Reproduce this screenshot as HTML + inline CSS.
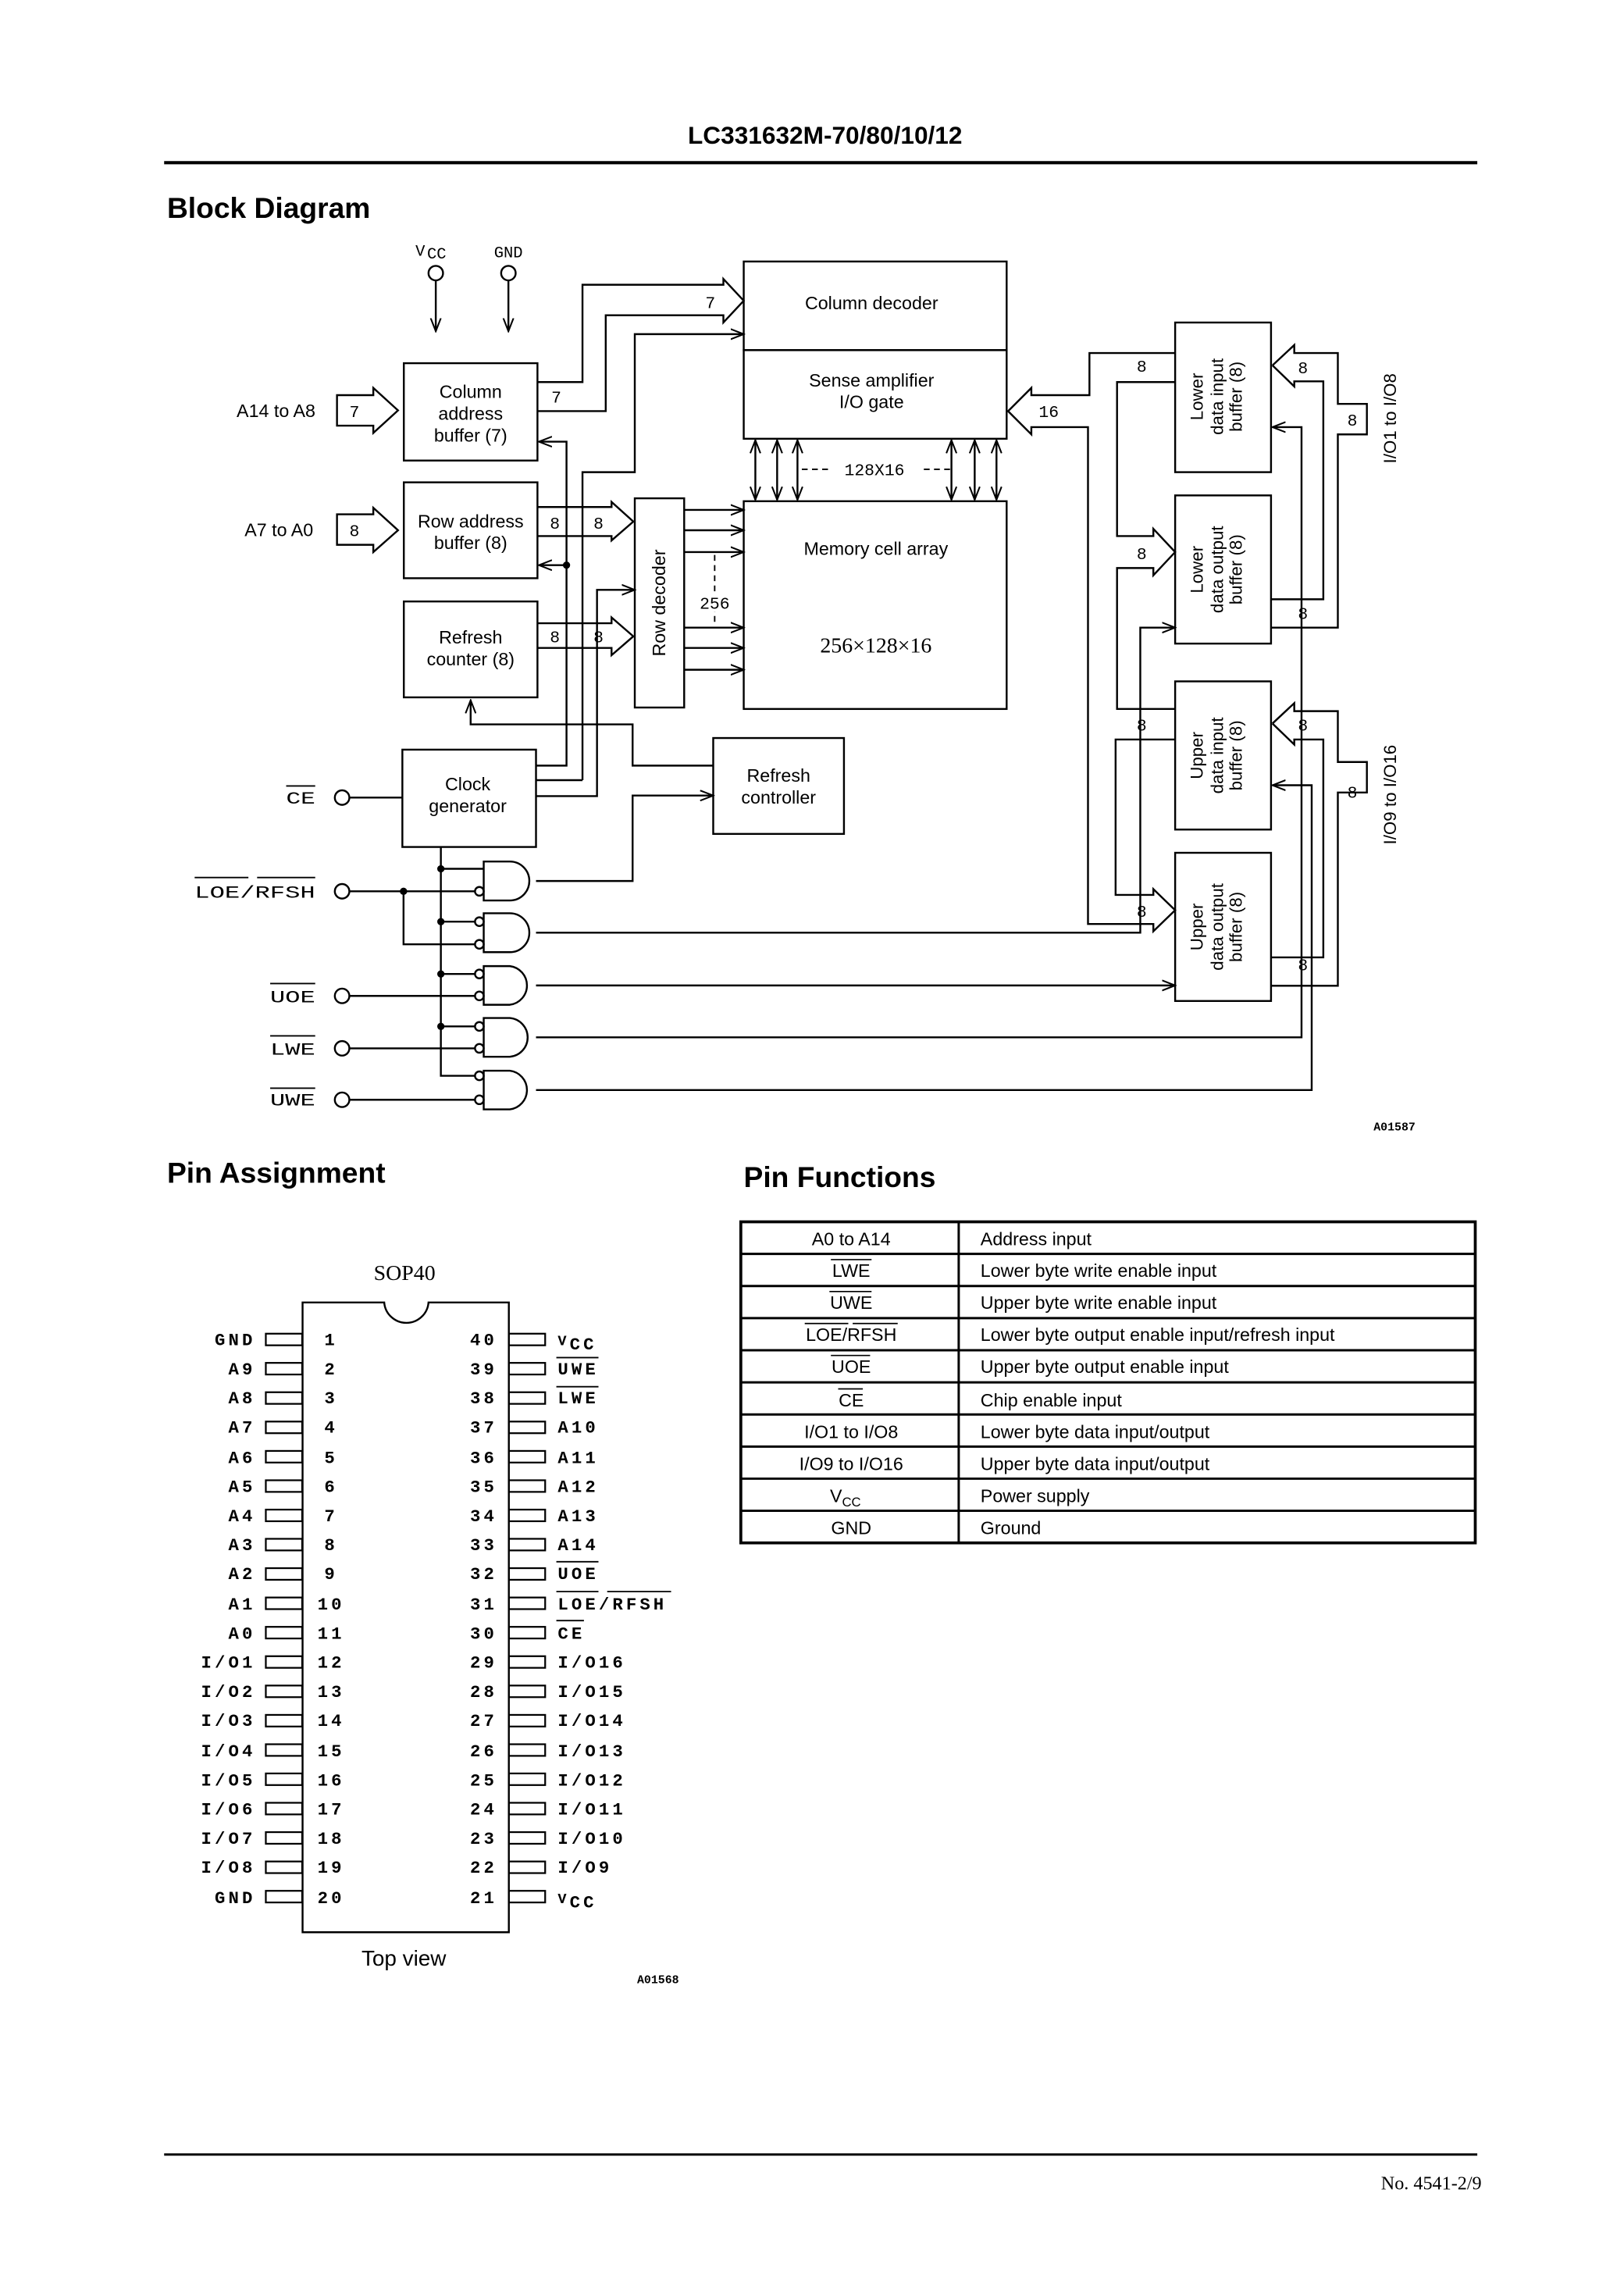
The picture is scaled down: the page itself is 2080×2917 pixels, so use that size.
<!DOCTYPE html>
<html><head><meta charset="utf-8"><style>
html,body{margin:0;padding:0;background:#fff;}
svg{display:block;}
.s{font-family:"Liberation Sans",sans-serif;fill:#000;}
.m{font-family:"Liberation Mono",monospace;fill:#000;}
</style></head><body>
<svg width="2080" height="2917" viewBox="0 0 1118 1568" preserveAspectRatio="none" xmlns="http://www.w3.org/2000/svg">
<defs>
<marker id="a" markerUnits="userSpaceOnUse" markerWidth="10" markerHeight="8" refX="9" refY="4" orient="auto"><path d="M0,0.5 L9,4 L0,7.5" fill="none" stroke="#000" stroke-width="1.1"/></marker>
<marker id="as" markerUnits="userSpaceOnUse" markerWidth="10" markerHeight="8" refX="9" refY="4" orient="auto-start-reverse"><path d="M0,0.5 L9,4 L0,7.5" fill="none" stroke="#000" stroke-width="1.1"/></marker>
</defs>
<rect width="1118" height="1568" fill="#fff"/>
<g fill="none" stroke="#000" stroke-width="1.3">
<line x1="113" y1="112" x2="1017" y2="112" stroke-width="2.2"/>
<circle cx="300" cy="188" r="5"/><circle cx="350" cy="188" r="5"/>
<line x1="300" y1="193" x2="300" y2="228" marker-end="url(#a)"/>
<line x1="350" y1="193" x2="350" y2="228" marker-end="url(#a)"/>
<rect x="278" y="250" width="92" height="67"/>
<rect x="278" y="332" width="92" height="66"/>
<rect x="278" y="414" width="92" height="66"/>
<rect x="277" y="516" width="92" height="67"/>
<rect x="512" y="180" width="181" height="61"/>
<rect x="512" y="241" width="181" height="61"/>
<rect x="512" y="345" width="181" height="143"/>
<rect x="437" y="343" width="34" height="144"/>
<rect x="491" y="508" width="90" height="66"/>
<rect x="809" y="222" width="66" height="103"/>
<rect x="809" y="341" width="66" height="102"/>
<rect x="809" y="469" width="66" height="102"/>
<rect x="809" y="587" width="66" height="102"/>
<path d="M232,272 H257 V267 L274,282.5 L257,298 V293 H232 Z"/>
<path d="M232,354 H257 V349.5 L274,365 L257,380 V375 H232 Z"/>
<path d="M370,263 H401 V196 H498 V192 L512,207 L498,222 V217 H417 V283 H370"/>
<path d="M401,537 V325 H437 V230 H512" marker-end="url(#a)"/>
<path d="M369,527 H390 V304 H371" marker-end="url(#a)"/>
<path d="M390,389 H371" marker-end="url(#a)"/>
<path d="M369,548 H411 V406 H437" marker-end="url(#a)"/>
<path d="M369,537 H401"/>
<path d="M370,349 H421 V345.5 L436,359 L421,372 V369 H370"/>
<path d="M370,429 H421 V425 L436,438 L421,451 V446 H370"/>
<line x1="471" y1="351" x2="512" y2="351" marker-end="url(#a)"/>
<line x1="471" y1="365" x2="512" y2="365" marker-end="url(#a)"/>
<line x1="471" y1="380" x2="512" y2="380" marker-end="url(#a)"/>
<line x1="471" y1="432" x2="512" y2="432" marker-end="url(#a)"/>
<line x1="471" y1="446" x2="512" y2="446" marker-end="url(#a)"/>
<line x1="471" y1="461" x2="512" y2="461" marker-end="url(#a)"/>
<line x1="492" y1="382" x2="492" y2="431" stroke-dasharray="4,3" stroke-width="1"/>
<line x1="520" y1="303" x2="520" y2="344" marker-start="url(#as)" marker-end="url(#a)"/>
<line x1="535" y1="303" x2="535" y2="344" marker-start="url(#as)" marker-end="url(#a)"/>
<line x1="549" y1="303" x2="549" y2="344" marker-start="url(#as)" marker-end="url(#a)"/>
<line x1="655" y1="303" x2="655" y2="344" marker-start="url(#as)" marker-end="url(#a)"/>
<line x1="671" y1="303" x2="671" y2="344" marker-start="url(#as)" marker-end="url(#a)"/>
<line x1="686" y1="303" x2="686" y2="344" marker-start="url(#as)" marker-end="url(#a)"/>
<line x1="552" y1="323" x2="570" y2="323" stroke-dasharray="4,3" stroke-width="1"/>
<line x1="636" y1="323" x2="654" y2="323" stroke-dasharray="4,3" stroke-width="1"/>
<path d="M809,243 H750 V272 H710 V267 L694,283 L710,299 V294 H749 V636 H794 V641 L809,626.5 L794,612 V616 H768 V509 H809"/>
<path d="M809,263 H769 V369 H794 V364 L809,380 L794,396 V391 H769 V488 H809"/>
<path d="M876,251.5 L891,237.5 V243 H921 V278 H941 V299 H921 V432 H875"/>
<path d="M876,251.5 L891,266 V262.5 H911 V412.5 H875"/>
<path d="M876,498 L891,484 V489.5 H921 V524.5 H941 V545.5 H921 V678.5 H875"/>
<path d="M876,498 L891,512.5 V509 H911 V659 H875"/>
<path d="M491,527 H435.5 V498.6 H324 V482" marker-end="url(#a)"/>
<path d="M369,606.4 H435.5 V547.6 H491" marker-end="url(#a)"/>
<path d="M369,642 H785 V432 H809" marker-end="url(#a)"/>
<path d="M369,678.3 H809" marker-end="url(#a)"/>
<path d="M369,714 H896 V294 H876" marker-end="url(#a)"/>
<path d="M369,750.3 H903 V540.5 H876" marker-end="url(#a)"/>
<circle cx="235.5" cy="549" r="5"/><line x1="240.5" y1="549" x2="277" y2="549"/>
<path d="M333,593 H351 A13.4,13.4 0 0 1 351,619.8 H333 Z"/>
<path d="M333,628.6 H351 A13.4,13.4 0 0 1 351,655.4 H333 Z"/>
<path d="M333,665 H351 A13.4,13.4 0 0 1 351,691.6 H333 Z"/>
<path d="M333,700.7 H351 A13.4,13.4 0 0 1 351,727.4 H333 Z"/>
<path d="M333,737 H351 A13.4,13.4 0 0 1 351,763.6 H333 Z"/>
<circle cx="330" cy="613.5" r="3"/>
<circle cx="330" cy="634.4" r="3"/><circle cx="330" cy="650" r="3"/>
<circle cx="330" cy="670.4" r="3"/><circle cx="330" cy="685.5" r="3"/>
<circle cx="330" cy="706.5" r="3"/><circle cx="330" cy="721.6" r="3"/>
<circle cx="330" cy="740.5" r="3"/><circle cx="330" cy="757" r="3"/>
<path d="M303.5,583 V740.5 H327"/>
<line x1="303.5" y1="598" x2="333" y2="598"/>
<line x1="303.5" y1="634.4" x2="327" y2="634.4"/>
<line x1="303.5" y1="670.4" x2="327" y2="670.4"/>
<line x1="303.5" y1="706.5" x2="327" y2="706.5"/>
<circle cx="235.5" cy="613.5" r="5"/><line x1="240.5" y1="613.5" x2="327" y2="613.5"/>
<path d="M277.8,613.5 V650 H327"/>
<circle cx="235.5" cy="685.5" r="5"/><line x1="240.5" y1="685.5" x2="327" y2="685.5"/>
<circle cx="235.5" cy="721.6" r="5"/><line x1="240.5" y1="721.6" x2="327" y2="721.6"/>
<circle cx="235.5" cy="757" r="5"/><line x1="240.5" y1="757" x2="327" y2="757"/>
<line x1="197" y1="541" x2="217" y2="541" stroke-width="1"/>
<line x1="134" y1="604" x2="171" y2="604" stroke-width="1"/>
<line x1="177" y1="604" x2="217" y2="604" stroke-width="1"/>
<line x1="186" y1="677" x2="217" y2="677" stroke-width="1"/>
<line x1="186" y1="713" x2="217" y2="713" stroke-width="1"/>
<line x1="186" y1="749" x2="217" y2="749" stroke-width="1"/>
<line x1="113" y1="1483" x2="1017" y2="1483" stroke-width="1.6"/>
</g>
<g fill="#000">
<circle cx="390" cy="389" r="2.5"/>
<circle cx="303.5" cy="598" r="2.5"/><circle cx="303.5" cy="634.4" r="2.5"/><circle cx="303.5" cy="670.4" r="2.5"/><circle cx="303.5" cy="706.5" r="2.5"/>
<circle cx="277.8" cy="613.5" r="2.5"/>
</g>
<rect x="480" y="408" width="24" height="13" fill="#fff"/>
<text class="s" x="568" y="99" font-size="17" font-weight="bold" text-anchor="middle">LC331632M-70/80/10/12</text>
<text class="s" x="115" y="150" font-size="20" font-weight="bold">Block Diagram</text>
<text class="m" x="286" y="176" font-size="11">V</text><text class="m" x="294" y="178" font-size="11">CC</text>
<text class="m" x="350" y="177" font-size="11" text-anchor="middle">GND</text>
<g class="s" font-size="12.5" text-anchor="middle">
<text x="324" y="274">Column</text><text x="324" y="289">address</text><text x="324" y="304">buffer (7)</text>
<text x="324" y="363">Row address</text><text x="324" y="378">buffer (8)</text>
<text x="324" y="443">Refresh</text><text x="324" y="458">counter (8)</text>
<text x="322" y="544">Clock</text><text x="322" y="559">generator</text>
<text x="536" y="538">Refresh</text><text x="536" y="553">controller</text>
<text x="600" y="213">Column decoder</text>
<text x="600" y="266">Sense amplifier</text><text x="600" y="281">I/O gate</text>
<text x="603" y="382">Memory cell array</text>
<text x="190" y="287">A14 to A8</text><text x="192" y="369">A7 to A0</text>
<text transform="translate(458,415) rotate(-90)">Row decoder</text>
<text transform="translate(961,288) rotate(-90)" font-size="12">I/O1 to I/O8</text>
<text transform="translate(961,547) rotate(-90)" font-size="12">I/O9 to I/O16</text>
</g>
<text x="603" y="449" font-family="Liberation Serif,serif" font-size="15" text-anchor="middle">256×128×16</text>
<g class="s" font-size="12" text-anchor="middle">
<g transform="translate(842,273) rotate(-90)"><text x="0" y="-14">Lower</text><text x="0" y="0">data input</text><text x="0" y="13">buffer (8)</text></g>
<g transform="translate(842,392) rotate(-90)"><text x="0" y="-14">Lower</text><text x="0" y="0">data output</text><text x="0" y="13">buffer (8)</text></g>
<g transform="translate(842,520) rotate(-90)"><text x="0" y="-14">Upper</text><text x="0" y="0">data input</text><text x="0" y="13">buffer (8)</text></g>
<g transform="translate(842,638) rotate(-90)"><text x="0" y="-14">Upper</text><text x="0" y="0">data output</text><text x="0" y="13">buffer (8)</text></g>
</g>
<g class="m" font-size="11.5" text-anchor="middle">
<text x="244" y="287">7</text><text x="244" y="369">8</text>
<text x="383" y="277">7</text><text x="489" y="212">7</text>
<text x="382" y="364">8</text><text x="412" y="364">8</text>
<text x="382" y="442">8</text><text x="412" y="442">8</text>
<text x="492" y="419">256</text>
<text x="602" y="327">128X16</text>
<text x="722" y="287">16</text>
<text x="786" y="256">8</text><text x="786" y="385">8</text><text x="786" y="503">8</text><text x="786" y="631">8</text>
<text x="897" y="257">8</text><text x="931" y="293">8</text><text x="897" y="426">8</text>
<text x="897" y="503">8</text><text x="931" y="549">8</text><text x="897" y="668">8</text>
</g>
<g class="m" font-size="12" text-anchor="end">
<text x="217" y="553" textLength="20" lengthAdjust="spacingAndGlyphs">CE</text>
<text x="217" y="618" textLength="83" lengthAdjust="spacingAndGlyphs">LOE/RFSH</text>
<text x="217" y="690" textLength="31" lengthAdjust="spacingAndGlyphs">UOE</text>
<text x="217" y="726" textLength="31" lengthAdjust="spacingAndGlyphs">LWE</text>
<text x="217" y="761" textLength="31" lengthAdjust="spacingAndGlyphs">UWE</text>
</g>
<text class="m" x="960" y="778" font-size="8" font-weight="bold" text-anchor="middle">A01587</text>

<text class="s" x="115" y="814" font-size="20" font-weight="bold">Pin Assignment</text>
<text class="s" x="512" y="817" font-size="20" font-weight="bold">Pin Functions</text>
<text x="278.5" y="881" font-family="Liberation Serif,serif" font-size="15" text-anchor="middle">SOP40</text>
<path d="M208.3,896.5 H264.5 A15.3,15.3 0 0 0 295,896.5 H350.3 V1330 H208.3 Z" fill="none" stroke="#000" stroke-width="1.3"/>
<g fill="none" stroke="#000" stroke-width="1.2">
<rect x="183" y="918" width="25" height="8"/><rect x="183" y="938.1" width="25" height="8"/><rect x="183" y="958.3" width="25" height="8"/><rect x="183" y="978.5" width="25" height="8"/><rect x="183" y="998.7" width="25" height="8"/><rect x="183" y="1018.9" width="25" height="8"/><rect x="183" y="1039.1" width="25" height="8"/><rect x="183" y="1059.2" width="25" height="8"/><rect x="183" y="1079.4" width="25" height="8"/><rect x="183" y="1099.6" width="25" height="8"/><rect x="183" y="1119.8" width="25" height="8"/><rect x="183" y="1140" width="25" height="8"/><rect x="183" y="1160.2" width="25" height="8"/><rect x="183" y="1180.4" width="25" height="8"/><rect x="183" y="1200.6" width="25" height="8"/><rect x="183" y="1220.7" width="25" height="8"/><rect x="183" y="1240.9" width="25" height="8"/><rect x="183" y="1261.1" width="25" height="8"/><rect x="183" y="1281.3" width="25" height="8"/><rect x="183" y="1301.5" width="25" height="8"/>
<rect x="350.3" y="918" width="25" height="8"/><rect x="350.3" y="938.1" width="25" height="8"/><rect x="350.3" y="958.3" width="25" height="8"/><rect x="350.3" y="978.5" width="25" height="8"/><rect x="350.3" y="998.7" width="25" height="8"/><rect x="350.3" y="1018.9" width="25" height="8"/><rect x="350.3" y="1039.1" width="25" height="8"/><rect x="350.3" y="1059.2" width="25" height="8"/><rect x="350.3" y="1079.4" width="25" height="8"/><rect x="350.3" y="1099.6" width="25" height="8"/><rect x="350.3" y="1119.8" width="25" height="8"/><rect x="350.3" y="1140" width="25" height="8"/><rect x="350.3" y="1160.2" width="25" height="8"/><rect x="350.3" y="1180.4" width="25" height="8"/><rect x="350.3" y="1200.6" width="25" height="8"/><rect x="350.3" y="1220.7" width="25" height="8"/><rect x="350.3" y="1240.9" width="25" height="8"/><rect x="350.3" y="1261.1" width="25" height="8"/><rect x="350.3" y="1281.3" width="25" height="8"/><rect x="350.3" y="1301.5" width="25" height="8"/>
</g>
<g class="m" font-size="12" font-weight="bold" letter-spacing="2.2" text-anchor="end">
<text x="176" y="926">GND</text><text x="176" y="946">A9</text><text x="176" y="966">A8</text><text x="176" y="986">A7</text><text x="176" y="1007">A6</text><text x="176" y="1027">A5</text><text x="176" y="1047">A4</text><text x="176" y="1067">A3</text><text x="176" y="1087">A2</text><text x="176" y="1108">A1</text><text x="176" y="1128">A0</text><text x="176" y="1148">I/O1</text><text x="176" y="1168">I/O2</text><text x="176" y="1188">I/O3</text><text x="176" y="1209">I/O4</text><text x="176" y="1229">I/O5</text><text x="176" y="1249">I/O6</text><text x="176" y="1269">I/O7</text><text x="176" y="1289">I/O8</text><text x="176" y="1310">GND</text>
</g>
<g class="m" font-size="12" font-weight="bold" letter-spacing="2.2" text-anchor="middle">
<text x="228" y="926">1</text><text x="228" y="946">2</text><text x="228" y="966">3</text><text x="228" y="986">4</text><text x="228" y="1007">5</text><text x="228" y="1027">6</text><text x="228" y="1047">7</text><text x="228" y="1067">8</text><text x="228" y="1087">9</text><text x="228" y="1108">10</text><text x="228" y="1128">11</text><text x="228" y="1148">12</text><text x="228" y="1168">13</text><text x="228" y="1188">14</text><text x="228" y="1209">15</text><text x="228" y="1229">16</text><text x="228" y="1249">17</text><text x="228" y="1269">18</text><text x="228" y="1289">19</text><text x="228" y="1310">20</text>
<text x="333" y="926">40</text><text x="333" y="946">39</text><text x="333" y="966">38</text><text x="333" y="986">37</text><text x="333" y="1007">36</text><text x="333" y="1027">35</text><text x="333" y="1047">34</text><text x="333" y="1067">33</text><text x="333" y="1087">32</text><text x="333" y="1108">31</text><text x="333" y="1128">30</text><text x="333" y="1148">29</text><text x="333" y="1168">28</text><text x="333" y="1188">27</text><text x="333" y="1209">26</text><text x="333" y="1229">25</text><text x="333" y="1249">24</text><text x="333" y="1269">23</text><text x="333" y="1289">22</text><text x="333" y="1310">21</text>
</g>
<g class="m" font-size="12" font-weight="bold" letter-spacing="2.2">
<text x="384" y="929"><tspan font-size="10" dy="-3">V</tspan><tspan dy="3">CC</tspan></text>
<text x="384" y="946">UWE</text><text x="384" y="966">LWE</text><text x="384" y="986">A10</text><text x="384" y="1007">A11</text><text x="384" y="1027">A12</text><text x="384" y="1047">A13</text><text x="384" y="1067">A14</text><text x="384" y="1087">UOE</text><text x="384" y="1108">LOE/RFSH</text><text x="384" y="1128">CE</text><text x="384" y="1148">I/O16</text><text x="384" y="1168">I/O15</text><text x="384" y="1188">I/O14</text><text x="384" y="1209">I/O13</text><text x="384" y="1229">I/O12</text><text x="384" y="1249">I/O11</text><text x="384" y="1269">I/O10</text><text x="384" y="1289">I/O9</text>
<text x="384" y="1313"><tspan font-size="10" dy="-3">V</tspan><tspan dy="3">CC</tspan></text>
</g>
<g stroke="#000" stroke-width="1">
<line x1="383" y1="934.5" x2="412" y2="934.5"/><line x1="383" y1="954.5" x2="412" y2="954.5"/><line x1="383" y1="1075" x2="412" y2="1075"/><line x1="383" y1="1095.5" x2="412" y2="1095.5"/><line x1="418" y1="1095.5" x2="462" y2="1095.5"/><line x1="383" y1="1115.5" x2="402" y2="1115.5"/>
</g>
<text class="s" x="278" y="1353" font-size="15" text-anchor="middle">Top view</text>
<text class="m" x="453" y="1365" font-size="8" font-weight="bold" text-anchor="middle">A01568</text>

<g fill="none" stroke="#000">
<rect x="510" y="841" width="505.6" height="221" stroke-width="2"/>
<line x1="660" y1="841" x2="660" y2="1062" stroke-width="1.6"/>
<g stroke-width="1.6">
<line x1="510" y1="863.1" x2="1015.6" y2="863.1"/><line x1="510" y1="885.2" x2="1015.6" y2="885.2"/><line x1="510" y1="907.3" x2="1015.6" y2="907.3"/><line x1="510" y1="929.4" x2="1015.6" y2="929.4"/><line x1="510" y1="951.5" x2="1015.6" y2="951.5"/><line x1="510" y1="973.6" x2="1015.6" y2="973.6"/><line x1="510" y1="995.7" x2="1015.6" y2="995.7"/><line x1="510" y1="1017.8" x2="1015.6" y2="1017.8"/><line x1="510" y1="1039.9" x2="1015.6" y2="1039.9"/>
</g>
</g>
<g class="s" font-size="12.5" text-anchor="middle">
<text x="586" y="857">A0 to A14</text><text x="586" y="879">LWE</text><text x="586" y="901">UWE</text><text x="586" y="923">LOE/RFSH</text><text x="586" y="945">UOE</text><text x="586" y="968">CE</text><text x="586" y="990">I/O1 to I/O8</text><text x="586" y="1012">I/O9 to I/O16</text>
<text x="582" y="1034">V<tspan font-size="9" dy="3">CC</tspan></text><text x="586" y="1056">GND</text>
</g>
<g stroke="#000" stroke-width="0.9">
<line x1="572" y1="867" x2="600" y2="867"/><line x1="571" y1="889" x2="600" y2="889"/><line x1="554" y1="911" x2="584" y2="911"/><line x1="587" y1="911" x2="618" y2="911"/><line x1="572" y1="933" x2="599" y2="933"/><line x1="577" y1="956" x2="594" y2="956"/>
</g>
<g class="s" font-size="12.5">
<text x="675" y="857">Address input</text><text x="675" y="879">Lower byte write enable input</text><text x="675" y="901">Upper byte write enable input</text><text x="675" y="923">Lower byte output enable input/refresh input</text><text x="675" y="945">Upper byte output enable input</text><text x="675" y="968">Chip enable input</text><text x="675" y="990">Lower byte data input/output</text><text x="675" y="1012">Upper byte data input/output</text><text x="675" y="1034">Power supply</text><text x="675" y="1056">Ground</text>
</g>
<text x="1020" y="1507" font-family="Liberation Serif,serif" font-size="13" text-anchor="end">No. 4541-2/9</text>
</svg>
</body></html>
